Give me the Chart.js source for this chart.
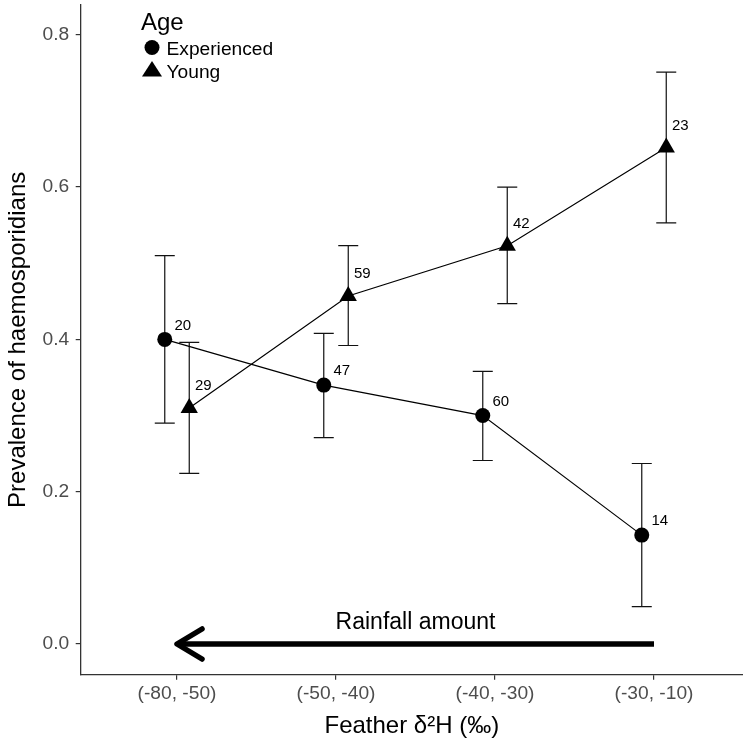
<!DOCTYPE html>
<html>
<head>
<meta charset="utf-8">
<script src="https://cdn.jsdelivr.net/npm/chart.js@4.4.1/dist/chart.umd.min.js"></script>
<style>
  body { margin: 0; background: #fff; }
  canvas { display: block; }
</style>
</head>
<body>
<canvas id="chart" width="743" height="743"></canvas>
<script>
const categories = ['(-80, -50)', '(-50, -40)', '(-40, -30)', '(-30, -10)'];
const expMean = [0.400, 0.340, 0.300, 0.143];
const expLow = [0.290, 0.271, 0.241, 0.049];
const expHigh = [0.510, 0.408, 0.358, 0.237];
const expN = [20, 47, 60, 14];
const youngMean = [0.310, 0.457, 0.523, 0.652];
const youngLow = [0.224, 0.392, 0.447, 0.553];
const youngHigh = [0.396, 0.523, 0.600, 0.751];
const youngN = [29, 59, 42, 23];
const yTicks = [0, 0.2, 0.4, 0.6, 0.8];

const FONT = 'Liberation Sans, Arial, sans-serif';
const dodge = 0.077;

function points(mean, shift) {
  return mean.map((v, i) => ({ x: i + shift, y: v }));
}

// error bars, drawn under the points
const errorBars = {
  id: 'errorBars',
  beforeDatasetsDraw(chart) {
    const { ctx, scales: { x, y } } = chart;
    const sets = [[expLow, expHigh, -dodge], [youngLow, youngHigh, dodge]];
    ctx.save();
    ctx.strokeStyle = '#111';
    ctx.lineWidth = 1.2;
    sets.forEach(([lo, hi, shift]) => {
      lo.forEach((v, i) => {
        const px = x.getPixelForValue(i + shift);
        const y1 = y.getPixelForValue(v);
        const y2 = y.getPixelForValue(hi[i]);
        ctx.beginPath();
        ctx.moveTo(px, y1); ctx.lineTo(px, y2);
        ctx.moveTo(px - 10, y1); ctx.lineTo(px + 10, y1);
        ctx.moveTo(px - 10, y2); ctx.lineTo(px + 10, y2);
        ctx.stroke();
      });
    });
    ctx.restore();
  }
};

// sample sizes, arrow, legend
const extras = {
  id: 'extras',
  afterDatasetsDraw(chart) {
    const { ctx, scales: { x, y } } = chart;
    ctx.save();
    ctx.fillStyle = '#000';
    ctx.font = '15px ' + FONT;
    ctx.textAlign = 'center';
    ctx.textBaseline = 'middle';
    expN.forEach((n, i) => {
      ctx.fillText(n, x.getPixelForValue(i - dodge) + 18, y.getPixelForValue(expMean[i]) - 14);
    });
    youngN.forEach((n, i) => {
      ctx.fillText(n, x.getPixelForValue(i + dodge) + 14, y.getPixelForValue(youngMean[i]) - 22);
    });

    // rainfall arrow
    const ay = y.getPixelForValue(0);
    const tail = x.getPixelForValue(3);
    const tip = x.getPixelForValue(0);
    ctx.strokeStyle = '#000';
    ctx.lineWidth = 5.5;
    ctx.lineCap = 'butt';
    ctx.beginPath();
    ctx.moveTo(tail, ay); ctx.lineTo(tip + 2, ay);
    ctx.stroke();
    ctx.lineJoin = 'round';
    ctx.lineCap = 'round';
    ctx.beginPath();
    ctx.moveTo(tip + 25, ay - 15);
    ctx.lineTo(tip, ay);
    ctx.lineTo(tip + 25, ay + 15);
    ctx.stroke();

    ctx.font = '23px ' + FONT;
    ctx.textBaseline = 'alphabetic';
    ctx.fillText('Rainfall amount', x.getPixelForValue(1.5), y.getPixelForValue(0.03) + 8);

    // legend
    ctx.textAlign = 'left';
    ctx.font = '24px ' + FONT;
    ctx.fillText('Age', 141, 29.5);
    ctx.font = '19.2px ' + FONT;
    ctx.fillText('Experienced', 166.5, 54.5);
    ctx.fillText('Young', 166.5, 77.5);
    ctx.beginPath();
    ctx.arc(152, 47.5, 7.5, 0, Math.PI * 2);
    ctx.fill();
    ctx.beginPath();
    ctx.moveTo(152, 61);
    ctx.lineTo(152 + 10, 76.5);
    ctx.lineTo(152 - 10, 76.5);
    ctx.closePath();
    ctx.fill();
    ctx.restore();
  }
};

const axisLine = { display: true, color: '#333', width: 1.3 };
const tickMarks = { display: true, drawOnChartArea: false, drawTicks: true, tickLength: 5, color: '#333', lineWidth: 1.2 };

new Chart(document.getElementById('chart'), {
  type: 'scatter',
  data: {
    datasets: [
      {
        label: 'Experienced',
        data: points(expMean, -dodge),
        showLine: true,
        borderColor: '#000',
        borderWidth: 1.2,
        pointStyle: 'circle',
        pointRadius: 7.5,
        pointBackgroundColor: '#000',
        pointBorderColor: '#000',
        pointBorderWidth: 0
      },
      {
        label: 'Young',
        data: points(youngMean, dodge),
        showLine: true,
        borderColor: '#000',
        borderWidth: 1.2,
        pointStyle: 'triangle',
        pointRadius: 10,
        pointBackgroundColor: '#000',
        pointBorderColor: '#000',
        pointBorderWidth: 0
      }
    ]
  },
  options: {
    responsive: false,
    animation: false,
    devicePixelRatio: 1,
    layout: { autoPadding: false, padding: { top: 5, right: 0, left: 0, bottom: 0 } },
    plugins: {
      legend: { display: false },
      tooltip: { enabled: false }
    },
    scales: {
      x: {
        type: 'linear',
        min: -0.6057,
        max: 3.5597,
        border: axisLine,
        grid: tickMarks,
        afterBuildTicks: s => { s.ticks = categories.map((c, i) => ({ value: i })); },
        afterFit: s => { s.height = 68.3; s.paddingLeft = 0; s.paddingRight = 0; },
        ticks: {
          autoSkip: false,
          maxRotation: 0,
          padding: 2,
          color: '#4d4d4d',
          font: { family: FONT, size: 19.2 },
          callback: (v, i) => categories[i]
        },
        title: {
          display: true,
          text: 'Feather δ²H (‰)',
          color: '#000',
          font: { family: FONT, size: 24 },
          padding: { top: 0, bottom: 2 }
        }
      },
      y: {
        min: -0.0403,
        max: 0.8391,
        border: axisLine,
        grid: tickMarks,
        afterBuildTicks: s => { s.ticks = yTicks.map(v => ({ value: v })); },
        afterFit: s => { s.width = 80.7; s.paddingTop = 0; s.paddingBottom = 0; },
        ticks: {
          padding: 6.5,
          color: '#4d4d4d',
          font: { family: FONT, size: 19.2 },
          callback: v => v.toFixed(1)
        },
        title: {
          display: true,
          text: 'Prevalence of haemosporidians',
          color: '#000',
          font: { family: FONT, size: 24 },
          padding: { top: 4, bottom: 0 }
        }
      }
    }
  },
  plugins: [errorBars, extras]
});
</script>
</body>
</html>
